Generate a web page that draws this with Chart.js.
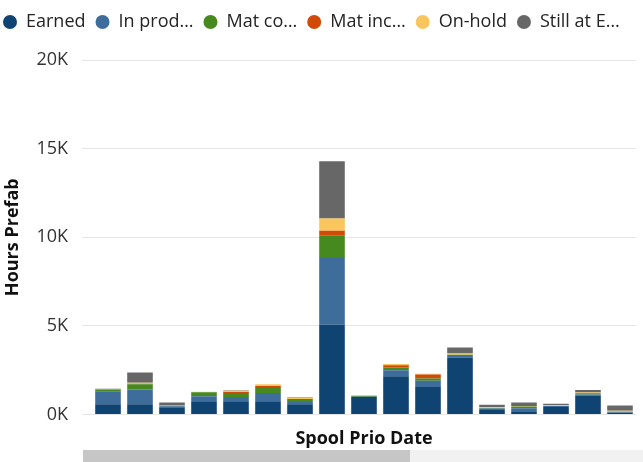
<!DOCTYPE html>
<html>
<head>
<meta charset="utf-8">
<script src="https://cdn.jsdelivr.net/npm/chart.js@4"></script>
<style>
  html, body { margin: 0; padding: 0; background: #fff; }
  #wrap { position: relative; width: 643px; height: 462px; }
  #track { position: absolute; left: 83px; top: 450px; width: 560px; height: 12px; background: #f1f1f1; }
  #thumb { position: absolute; left: 83px; top: 450px; width: 327px; height: 12px; background: #c6c6c6; }
</style>
</head>
<body>
<div id="wrap">
  <canvas id="chart" width="643" height="452"></canvas>
  <div id="track"></div>
  <div id="thumb"></div>
</div>
<script>
// spool prio dates (axis labels are hidden in the reference)
const dates = ['W01', 'W02', 'W03', 'W04', 'W05', 'W06', 'W07', 'W08', 'W09',
               'W10', 'W11', 'W12', 'W13', 'W14', 'W15', 'W16', 'W17'];

// hours per status
const earned      = [570, 570, 360, 740, 740, 740, 570, 5060, 980, 2150, 1540, 3200, 250, 140, 420, 1060, 80];
const inProd      = [730, 830, 100, 280, 240, 470, 130, 3770, 20, 340, 360, 100, 80, 210, 60, 70, 40];
const matComplete = [70, 300, 40, 230, 230, 340, 170, 1280, 50, 160, 130, 70, 30, 90, 0, 60, 30];
const matIncomp   = [0, 30, 0, 0, 60, 50, 0, 250, 0, 130, 220, 0, 0, 0, 0, 0, 0];
const onHold      = [20, 50, 30, 30, 70, 100, 50, 700, 20, 60, 40, 70, 40, 30, 50, 50, 50];
const stillAtE    = [60, 590, 140, 0, 20, 0, 30, 3220, 0, 0, 0, 330, 140, 200, 70, 140, 300];

const yTicks = [0, 5000, 10000, 15000, 20000];

const series = [
  { label: 'Earned',      data: earned,      color: '#0f4372' },
  { label: 'In prod…',    data: inProd,      color: '#3f6d9b' },
  { label: 'Mat co…',     data: matComplete, color: '#468a1f' },
  { label: 'Mat inc…',    data: matIncomp,   color: '#d24a08' },
  { label: 'On-hold',     data: onHold,      color: '#f8c65c' },
  { label: 'Still at E…', data: stillAtE,    color: '#676767' }
];

const font = "'Open Sans', 'Noto Sans', sans-serif";

// legend spacing tweaks: less room below it, nudged left and down a bit
const legendTweak = {
  id: 'legendTweak',
  beforeInit(chart) {
    const fit = chart.legend.fit;
    chart.legend.fit = function () {
      fit.call(this);
      this.height -= 6;
    };
  },
  beforeDraw(chart) {
    const lg = chart.legend;
    lg.left = -7;
    lg.top = 3;
    lg.bottom += 3;
  }
};

new Chart(document.getElementById('chart'), {
  type: 'bar',
  data: {
    labels: dates,
    datasets: series.map(s => ({
      label: s.label,
      data: s.data,
      backgroundColor: s.color,
      borderWidth: 0,
      categoryPercentage: 1,
      barPercentage: 0.8
    }))
  },
  plugins: [legendTweak],
  options: {
    responsive: false,
    animation: false,
    layout: { padding: { left: 0, right: 7, top: 0, bottom: 2 } },
    plugins: {
      tooltip: { enabled: false },
      legend: {
        position: 'top',
        align: 'start',
        labels: {
          usePointStyle: true,
          pointStyle: 'circle',
          pointStyleWidth: 14,
          boxHeight: 10,
          padding: 10,
          color: '#252423',
          font: { family: font, size: 18 }
        }
      }
    },
    scales: {
      x: {
        stacked: true,
        grid: { display: false },
        border: { display: false },
        ticks: { display: false },
        title: {
          display: true,
          text: 'Spool Prio Date',
          color: '#111',
          font: { family: font, size: 18, weight: 'bold' },
          padding: { top: 6, bottom: 0 }
        }
      },
      y: {
        stacked: true,
        min: 0,
        max: 20000,
        afterFit: scale => { scale.width = 92; },
        afterBuildTicks: scale => { scale.ticks = yTicks.map(v => ({ value: v })); },
        border: { display: false },
        grid: { color: '#e6e6e6', drawTicks: true, tickLength: 10 },
        ticks: {
          color: '#333',
          padding: 14,
          font: { family: font, size: 18 },
          callback: v => (v / 1000) + 'K'
        },
        title: {
          display: true,
          text: 'Hours Prefab',
          color: '#111',
          font: { family: font, size: 18, weight: 'bold' },
          padding: { top: 2, bottom: 0 }
        }
      }
    }
  }
});
</script>
</body>
</html>
